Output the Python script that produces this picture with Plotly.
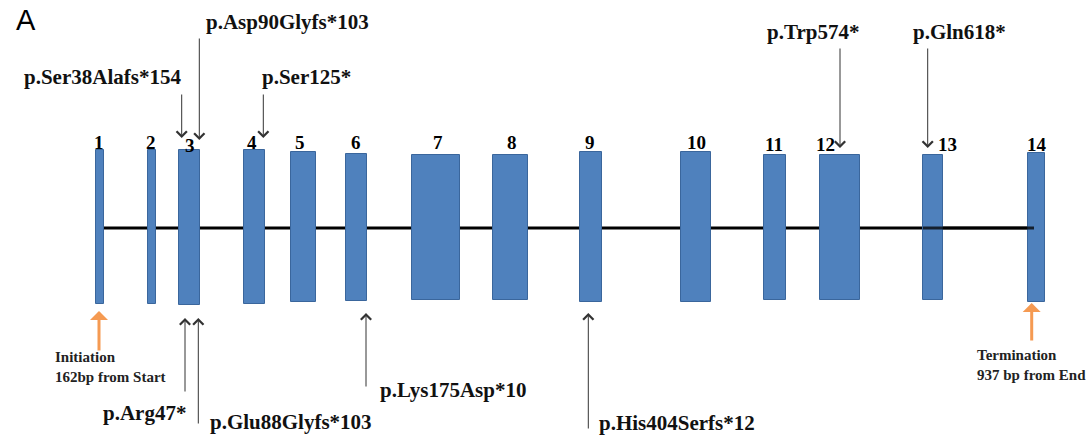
import plotly.graph_objects as go

# ---- data (pixel-like gene coordinates) ----
exon_labels = ["1", "2", "3", "4", "5", "6", "7", "8", "9", "10", "11", "12", "13", "14"]
exon_start = [96, 148, 179, 244, 291, 346, 412, 493, 580, 681, 764, 820, 923, 1028]
exon_end = [104, 156, 200, 265, 316, 367, 460, 528, 602, 711, 786, 860, 943, 1045]
exon_top = [150, 150, 150, 150, 152, 154, 155, 155, 152, 152, 155, 155, 155, 153]
exon_bottom = [304, 304, 305, 304, 302, 301, 300, 300, 302, 302, 300, 300, 300, 302]
exon_label_x = [99, 151, 190, 252, 300, 356, 438, 512, 590, 696, 774, 825, 947, 1037]
exon_label_y = [142, 142, 145, 142, 142, 142, 142, 142, 142, 142, 144, 144, 144, 144]

intron_x = [104, 1034]
intron_y = 228

# mutations above the gene: label, label x (left), label y, arrow x, tail y, tip y
up_labels = ["p.Ser38Alafs*154", "p.Asp90Glyfs*103", "p.Ser125*", "p.Trp574*", "p.Gln618*"]
up_label_x = [22, 204, 260, 765, 911]
up_label_y = [77, 22, 77, 32, 32]
up_arrow_x = [181.7, 199.3, 263.3, 840, 927.7]
up_tail_y = [93, 37, 93, 47, 47]
up_tip_y = [138, 140, 138, 148, 148]

# mutations below the gene
dn_labels = ["p.Arg47*", "p.Glu88Glyfs*103", "p.Lys175Asp*10", "p.His404Serfs*12"]
dn_label_x = [188, 208, 378, 597]
dn_label_anchor = ["right", "left", "left", "left"]
dn_label_y = [413, 422, 390, 423]
dn_arrow_x = [185, 198.3, 366, 588.3]
dn_tail_y = [393, 425, 388, 430]
dn_tip_y = [318, 318, 313, 313]

# start / stop markers
site_text = ["Initiation<br>162bp from Start", "Termination<br>937 bp from End"]
site_text_x = [53, 975]
site_text_y = [367, 365]
site_arrow_x = [99, 1031.7]
site_tail_y = [352, 342]
site_tip_y = [311, 303]

SERIF = "Liberation Serif, Times New Roman, serif"
BLUE = "#4f81bd"
BLUE_EDGE = "#3a669c"
ORANGE = "#f59a52"

centers = [(s + e) / 2 for s, e in zip(exon_start, exon_end)]
widths = [e - s for s, e in zip(exon_start, exon_end)]
heights = [b - t for t, b in zip(exon_top, exon_bottom)]

fig = go.Figure()
fig.add_trace(go.Bar(
    x=centers, y=heights, base=exon_top, width=widths,
    marker=dict(color=BLUE, line=dict(color=BLUE_EDGE, width=1)),
    hoverinfo="skip", showlegend=False,
))
# intron line segment drawn over the last exons
fig.add_trace(go.Scatter(
    x=[exon_start[12], intron_x[1]], y=[intron_y, intron_y], mode="lines",
    line=dict(color="rgba(0,0,0,0.75)", width=3), hoverinfo="skip", showlegend=False,
))

shapes = [dict(type="line", xref="x", yref="y", x0=intron_x[0], x1=intron_x[1],
               y0=intron_y, y1=intron_y, line=dict(color="black", width=3), layer="below")]

ann = []
ann.append(dict(text="A", x=14, y=20, xref="x", yref="y", xanchor="left", yanchor="middle",
                showarrow=False, font=dict(family="Liberation Sans, Arial, sans-serif", size=29, color="black")))
for t, x, y in zip(exon_labels, exon_label_x, exon_label_y):
    ann.append(dict(text="<b>%s</b>" % t, x=x, y=y, xref="x", yref="y", showarrow=False,
                    xanchor="center", yanchor="middle", font=dict(family=SERIF, size=19, color="black")))
for t, lx, ly in zip(up_labels, up_label_x, up_label_y):
    ann.append(dict(text="<b>%s</b>" % t, x=lx, y=ly, xref="x", yref="y", showarrow=False,
                    xanchor="left", yanchor="middle", font=dict(family=SERIF, size=21, color="#111")))
for ax_, ty, hy in zip(up_arrow_x, up_tail_y, up_tip_y):
    ann.append(dict(text="", x=ax_, y=hy, ax=ax_, ay=ty, xref="x", yref="y", axref="x", ayref="y",
                    showarrow=True, arrowhead=4, arrowsize=2, arrowwidth=1, arrowcolor="#333", standoff=0))
for t, lx, anc, ly in zip(dn_labels, dn_label_x, dn_label_anchor, dn_label_y):
    ann.append(dict(text="<b>%s</b>" % t, x=lx, y=ly, xref="x", yref="y", showarrow=False,
                    xanchor=anc, yanchor="middle", font=dict(family=SERIF, size=21, color="#111")))
for ax_, ty, hy in zip(dn_arrow_x, dn_tail_y, dn_tip_y):
    ann.append(dict(text="", x=ax_, y=hy, ax=ax_, ay=ty, xref="x", yref="y", axref="x", ayref="y",
                    showarrow=True, arrowhead=4, arrowsize=2, arrowwidth=1, arrowcolor="#333", standoff=0))
for t, lx, ly in zip(site_text, site_text_x, site_text_y):
    ann.append(dict(text="<b>%s</b>" % t, x=lx, y=ly, xref="x", yref="y", showarrow=False,
                    xanchor="left", yanchor="middle", align="left",
                    font=dict(family=SERIF, size=15, color="#222")))
for ax_, ty, hy in zip(site_arrow_x, site_tail_y, site_tip_y):
    ann.append(dict(text="", x=ax_, y=hy, ax=ax_, ay=ty, xref="x", yref="y", axref="x", ayref="y",
                    showarrow=True, arrowhead=1, arrowsize=1, arrowwidth=3, arrowcolor=ORANGE, standoff=0))

fig.update_layout(
    width=1089, height=438, margin=dict(l=0, r=0, t=0, b=0),
    paper_bgcolor="white", plot_bgcolor="white",
    xaxis=dict(range=[0, 1089], visible=False, fixedrange=True),
    yaxis=dict(range=[438, 0], visible=False, fixedrange=True),
    shapes=shapes, annotations=ann, bargap=0,
)
fig.write_html("out.html")
